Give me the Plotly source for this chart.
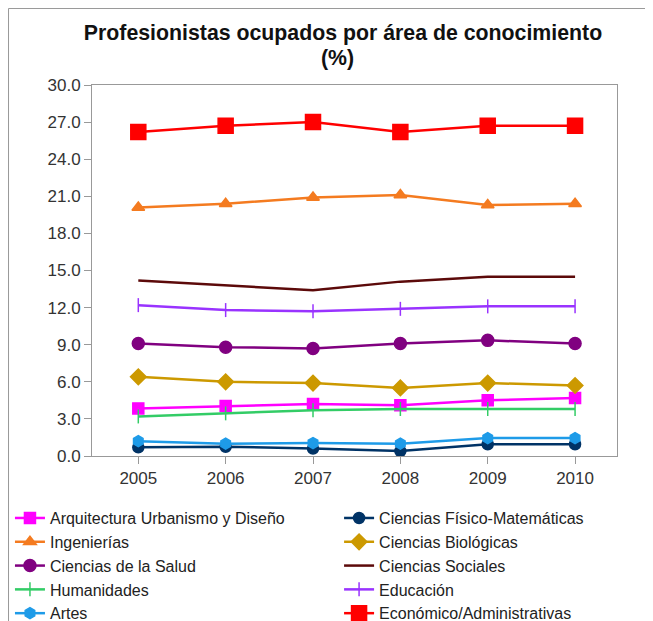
import plotly.graph_objects as go

years = [2005, 2006, 2007, 2008, 2009, 2010]

series_names = [
    "Arquitectura Urbanismo y Diseño",
    "Ciencias Físico-Matemáticas",
    "Ingenierías",
    "Ciencias Biológicas",
    "Ciencias de la Salud",
    "Ciencias Sociales",
    "Humanidades",
    "Educación",
    "Artes",
    "Económico/Administrativas",
]

arquitectura = [3.85, 4.05, 4.2, 4.1, 4.5, 4.7]
fisico_mat = [0.7, 0.75, 0.6, 0.4, 0.95, 0.95]
ingenierias = [20.1, 20.4, 20.9, 21.1, 20.3, 20.4]
biologicas = [6.4, 6.0, 5.9, 5.5, 5.9, 5.7]
salud = [9.1, 8.8, 8.7, 9.1, 9.35, 9.1]
sociales = [14.2, 13.8, 13.4, 14.1, 14.5, 14.5]
humanidades = [3.2, 3.45, 3.7, 3.8, 3.8, 3.8]
educacion = [12.2, 11.8, 11.7, 11.9, 12.1, 12.1]
artes = [1.2, 1.0, 1.05, 1.0, 1.45, 1.45]
economico = [26.2, 26.7, 27.0, 26.2, 26.7, 26.7]

y_ticks = [0, 3, 6, 9, 12, 15, 18, 21, 24, 27, 30]

values = [arquitectura, fisico_mat, ingenierias, biologicas, salud,
          sociales, humanidades, educacion, artes, economico]

colors = ["#FF00FF", "#003366", "#F47B20", "#CC9900", "#800080",
          "#5C0A0A", "#33CC66", "#9933FF", "#1E9BE8", "#FF0000"]
symbols = ["square", "circle", "triangle-up", "diamond", "circle",
           None, "line-ns", "line-ns", "hexagon", "square"]
sizes = [11, 11, 11, 12, 12, 0, 10, 10, 11, 15]

fig = go.Figure()
for i, (name, vals, c, s, sz) in enumerate(zip(series_names, values, colors, symbols, sizes)):
    leg = "legend" if i % 2 == 0 else "legend2"
    if s is None:
        fig.add_trace(go.Scatter(x=years, y=vals, name=name, mode="lines", legend=leg,
                                 line=dict(color=c, width=2.5)))
    else:
        fig.add_trace(go.Scatter(
            x=years, y=vals, name=name, mode="lines+markers", legend=leg,
            line=dict(color=c, width=2.5),
            marker=dict(symbol=s, size=sz, color=c,
                        line=dict(color=c, width=1.5))))

legend_common = dict(orientation="v", xref="container", yref="container",
                     xanchor="left", yanchor="top", traceorder="normal",
                     font=dict(size=16, family="Liberation Sans, Arial", color="#222"),
                     itemwidth=30, tracegroupgap=0, bgcolor="rgba(0,0,0,0)")

fig.update_layout(
    width=653, height=621,
    paper_bgcolor="white", plot_bgcolor="white",
    margin=dict(l=84, r=44, t=77, b=173, autoexpand=False),
    font=dict(family="Liberation Sans, Arial", size=17, color="#333"),
    title=dict(
        text="<b>Profesionistas ocupados por área de conocimiento</b>",
        x=0.513, xanchor="center", y=0.9597, yanchor="middle",
        font=dict(size=21.3, color="#111", family="Liberation Sans, Arial"),
    ),
    annotations=[
        dict(text="<b>(%)</b>", xref="paper", yref="paper", x=0.467, y=1.0728,
             xanchor="center", yanchor="middle", showarrow=False,
             font=dict(size=21.3, color="#111", family="Liberation Sans, Arial")),
    ],
    showlegend=True,
    legend=dict(x=0.003, y=0.206, **legend_common),
    legend2=dict(x=0.507, y=0.206, **legend_common),
    xaxis=dict(range=[2004.47, 2010.48], tickmode="array", tickvals=years,
               ticktext=[str(y) for y in years],
               showgrid=False, zeroline=False, showline=True, linecolor="#999",
               linewidth=1, mirror=True, ticks="outside", ticklen=7, tickcolor="#999",
               tickfont=dict(size=17)),
    yaxis=dict(range=[0, 30], tickmode="array",
               tickvals=y_ticks,
               ticktext=["%.1f" % v for v in y_ticks],
               showgrid=False, zeroline=False, showline=True, linecolor="#999",
               linewidth=1, mirror=True, ticks="outside", ticklen=7, tickcolor="#999",
               tickfont=dict(size=17)),
    shapes=[
        dict(type="line", xref="paper", yref="paper", x0=-0.159, x1=1.2, y0=1.2062, y1=1.2062,
             line=dict(color="#999", width=1)),
        dict(type="line", xref="paper", yref="paper", x0=-0.159, x1=-0.159, y0=1.2062, y1=-0.5,
             line=dict(color="#999", width=1)),
    ],
)

fig.write_html("out.html")
